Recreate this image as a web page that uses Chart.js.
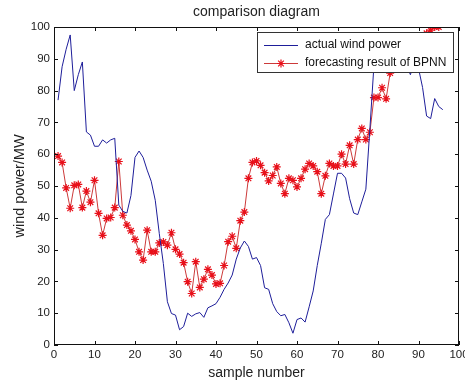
<!DOCTYPE html>
<html>
<head>
<meta charset="utf-8">
<script src="https://cdn.jsdelivr.net/npm/chart.js@4/dist/chart.umd.min.js"></script>
<style>
html,body{margin:0;padding:0;background:#fff;}
#wrap{width:465px;height:385px;}
</style>
</head>
<body>
<div id="wrap"><canvas id="c" width="465" height="385"></canvas></div>
<script>
const titleText = "comparison diagram";
const xAxisTitle = "sample number";
const yAxisTitle = "wind power/MW";
const seriesNames = ["actual wind power", "forecasting result of BPNN"];
const xTicks = [0,10,20,30,40,50,60,70,80,90,100];
const yTicks = [0,10,20,30,40,50,60,70,80,90,100];

const actualPower = [77,87.5,93,97.5,80,85,89,67,66,62.5,
  62.5,64.5,63.5,64.5,65,44,42,41.5,47,59,
  61,59,55,51.5,45.5,35,25.6,13.6,9.9,9.4,
  4.8,5.8,10,9,9.8,10.2,8.7,11.7,12.3,13,
  15,17.5,19.5,22,27,30.5,32.7,31,27,27.5,
  25,18,17.5,13,10.5,9.2,9.6,7,3.7,8,
  8.5,7.2,12,17,25,32,39.5,41,47.5,54,
  54,52.5,46,41.5,41,45,49,68,88,93,
  97,94,92,90,89,86,88,85,89,87,
  81,72,71.2,77.5,75,74];

const forecastBPNN = [59.4,57.4,49.4,43,50.2,50.5,43.2,48.4,44.9,51.8,
  41.4,34.5,39.8,40.1,43.2,57.7,40.8,37.7,35.9,33.2,
  29.3,26.7,36.1,29.3,29.3,32.1,32.4,31.4,35.3,30.1,
  28.6,25.9,19.9,16.2,26.2,18.1,20.7,23.8,22,19.2,
  19.4,25,32.5,34.2,30.4,39.1,41.8,52.4,57.4,57.9,
  56.5,54.2,51.6,53.3,56,50.8,47.6,52.4,51.8,49.7,
  52.4,55.3,57.1,56.3,54.5,47.6,53.2,57.1,56.3,56.3,
  60,56.9,62.8,56.9,64.6,68.1,64.6,66.9,77.8,77.8,
  80.9,77.4,85.5,87,88,90,89,91,92,94,
  97,98,99,100,100];

const FONT = "'Liberation Sans', Arial, sans-serif";
const BLUE = '#1e1e9a';
const RED_LINE = '#cc3a3a';
const RED_PT = '#e8101a';

const toXY = arr => arr.map((v,i)=>({x:i+1,y:v}));

const frameTicks = {
  id:'frameTicks',
  afterDatasetsDraw(chart){
    const {ctx, chartArea:a, scales:{x,y}} = chart;
    ctx.save();
    ctx.strokeStyle = '#111';
    ctx.lineWidth = 1;
    ctx.beginPath();
    const L = 4;
    xTicks.forEach(v=>{
      const px = Math.round(x.getPixelForValue(v))+0.5;
      ctx.moveTo(px, a.bottom); ctx.lineTo(px, a.bottom-L);
      ctx.moveTo(px, a.top); ctx.lineTo(px, a.top+L);
    });
    yTicks.forEach(v=>{
      const py = Math.round(y.getPixelForValue(v))+0.5;
      ctx.moveTo(a.left, py); ctx.lineTo(a.left+L, py);
      ctx.moveTo(a.right, py); ctx.lineTo(a.right-L, py);
    });
    ctx.stroke();
    ctx.strokeRect(Math.round(a.left)+0.5, Math.round(a.top)+0.5, Math.round(a.right-a.left)-1, Math.round(a.bottom-a.top)-1);

    // legend box
    const bw = 196, bh = 40;
    const bx = Math.round(a.right) - 6 - bw, by = Math.round(a.top) + 5;
    ctx.fillStyle = '#fff';
    ctx.fillRect(bx, by, bw, bh);
    ctx.strokeStyle = '#333';
    ctx.strokeRect(bx+0.5, by+0.5, bw, bh);
    const rows = [by+12.5, by+30.5];
    const ds = chart.data.datasets;
    ctx.font = "12px " + FONT;
    ctx.textBaseline = 'middle';
    ctx.textAlign = 'left';
    ds.forEach((d,i)=>{
      const ry = Math.round(rows[i]) + 0.5;
      ctx.strokeStyle = d.borderColor;
      ctx.lineWidth = 1;
      ctx.beginPath(); ctx.moveTo(bx+7, ry); ctx.lineTo(bx+41, ry); ctx.stroke();
      if (d.pointRadius > 0) {
        ctx.strokeStyle = d.pointBorderColor;
        ctx.lineWidth = 1.2;
        Chart.helpers.drawPoint(ctx, {pointStyle:'star', radius:4, borderWidth:1.2}, bx+24, ry);
      }
      ctx.fillStyle = '#111';
      ctx.fillText(d.label, bx+48, rows[i]);
    });
    ctx.restore();
  }
};

new Chart(document.getElementById('c'), {
  type:'line',
  data:{
    datasets:[
      {label:seriesNames[0], data:toXY(actualPower), borderColor:BLUE, borderWidth:1, pointRadius:0, tension:0, fill:false},
      {label:seriesNames[1], data:toXY(forecastBPNN), borderColor:RED_LINE, borderWidth:1, pointStyle:'star', pointRadius:4, pointBorderColor:RED_PT, pointBackgroundColor:RED_PT, pointBorderWidth:1.2, tension:0, fill:false}
    ]
  },
  options:{
    responsive:false,
    animation:false,
    devicePixelRatio:1,
    layout:{padding:{top:0,right:6,bottom:0,left:0}},
    plugins:{
      legend:{display:false},
      tooltip:{enabled:false},
      title:{display:true, text:titleText, fullSize:false, color:'#222', font:{family:FONT, size:14, weight:'normal'}, padding:{top:3.6, bottom:6.6}}
    },
    scales:{
      x:{type:'linear', min:0, max:100,
        afterBuildTicks(s){ s.ticks = xTicks.map(v=>({value:v})); },
        afterFit(s){ s.height = 40; s.paddingLeft = 0; s.paddingRight = 0; },
        grid:{display:false, drawTicks:false},
        border:{display:false},
        ticks:{color:'#222', padding:3, maxRotation:0, autoSkip:false, font:{family:FONT, size:11.5}},
        title:{display:true, text:xAxisTitle, color:'#222', font:{family:FONT, size:14}, padding:{top:0,bottom:3.6}}
      },
      y:{type:'linear', min:0, max:100,
        afterBuildTicks(s){ s.ticks = yTicks.map(v=>({value:v})); },
        afterFit(s){ s.width = 54; },
        grid:{display:false, drawTicks:false},
        border:{display:false},
        ticks:{color:'#222', padding:4, autoSkip:false, font:{family:FONT, size:11.5}},
        title:{display:true, text:yAxisTitle, color:'#222', font:{family:FONT, size:14.5}, padding:{top:11,bottom:0}}
      }
    }
  },
  plugins:[frameTicks]
});
</script>
</body>
</html>
